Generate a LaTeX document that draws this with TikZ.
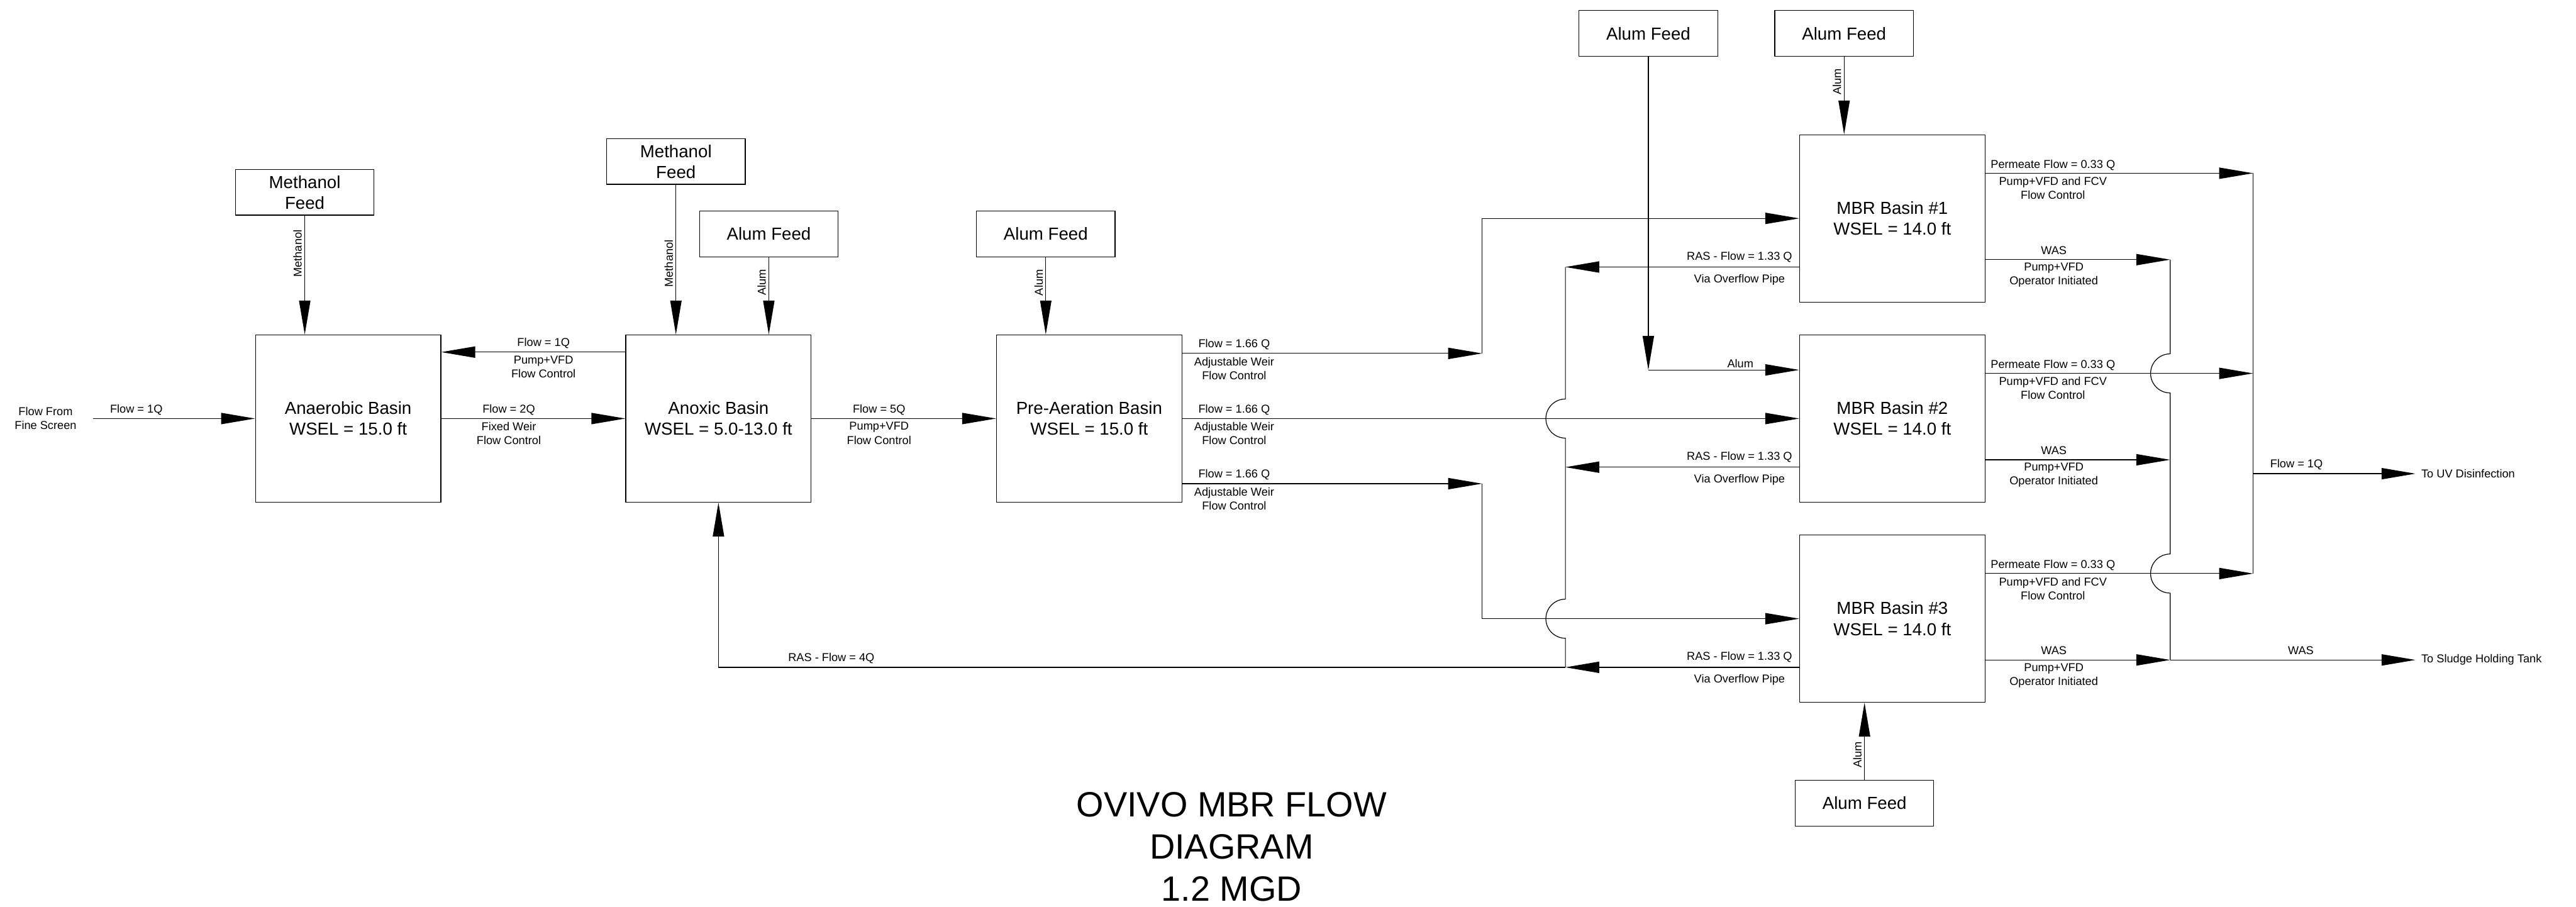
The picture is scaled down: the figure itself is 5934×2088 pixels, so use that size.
\documentclass[tikz,border=0pt]{standalone}
\usepackage{fontspec}
\setmainfont{Liberation Sans}
\usetikzlibrary{arrows.meta,calc}

\newcommand{\basinfont}{\fontsize{11.4}{13.7}\selectfont}
\newcommand{\lblfont}{\fontsize{7.5}{9.1}\selectfont}
\newcommand{\ttlfont}{\fontsize{23}{27.6}\selectfont}

\tikzset{
  basin/.style={draw, line width=0.5pt, minimum width=4.27cm, minimum height=3.85cm,
    inner sep=0pt, align=center, font=\basinfont},
  feed/.style={draw, line width=0.5pt, minimum width=3.19cm, minimum height=1.05cm,
    inner sep=0pt, align=center, font=\basinfont},
  flow/.style={line width=0.5pt, -{Triangle[length=7.8mm,width=2.6mm]}},
  pipe/.style={line width=0.5pt},
  toplbl/.style={anchor=base, inner sep=0pt, font=\lblfont},
  botlbl/.style={anchor=north, inner sep=0pt, align=center, font=\lblfont},
  chemlbl/.style={rotate=90, anchor=base, inner sep=0pt, font=\lblfont},
  endlbl/.style={anchor=west, inner sep=0.13cm, font=\lblfont},
}

\begin{document}
\begin{tikzpicture}[x=0.01cm, y=-0.01cm]
  \useasboundingbox (0,0) rectangle (5934,2088);

  % Basins
  \node[basin] (anaer) at (802,964) {Anaerobic Basin\\WSEL = 15.0 ft};
  \node[basin] (anox) at (1655,964) {Anoxic Basin\\WSEL = 5.0-13.0 ft};
  \node[basin] (preair) at (2509,964) {Pre-Aeration Basin\\WSEL = 15.0 ft};
  \node[basin] (mbr1) at (4359,503) {MBR Basin \#1\\WSEL = 14.0 ft};
  \node[basin] (mbr2) at (4359,964) {MBR Basin \#2\\WSEL = 14.0 ft};
  \node[basin] (mbr3) at (4359,1425) {MBR Basin \#3\\WSEL = 14.0 ft};

  % Chemical feeds
  \node[feed] (meth1) at (702,443) {Methanol\\Feed};
  \node[feed] (meth2) at (1557,372) {Methanol\\Feed};
  \node[feed] (alum1) at (1771,539) {Alum Feed};
  \node[feed] (alum2) at (2409,539) {Alum Feed};
  \node[feed] (alum3) at (3797,77) {Alum Feed};
  \node[feed] (alum4) at (4248,77) {Alum Feed};
  \node[feed] (alum5) at (4295,1850) {Alum Feed};

  \draw[flow] (meth1.south) -- (meth1.south |- anaer.north);
  \node[chemlbl] (methl1) at (695,584) {Methanol};
  \draw[flow] (meth2.south) -- (meth2.south |- anox.north);
  \node[chemlbl] (methl2) at (1550,607) {Methanol};
  \draw[flow] (alum1.south) -- (alum1.south |- anox.north);
  \node[chemlbl] (aluml1) at (1764,650) {Alum};
  \draw[flow] (alum2.south) -- (alum2.south |- preair.north);
  \node[chemlbl] (aluml2) at (2402,651) {Alum};
  \draw[flow] (alum4.south) -- (alum4.south |- mbr1.north);
  \node[chemlbl] (aluml4) at (4241,188) {Alum};
  \draw[flow] (alum5.north) -- (alum5.north |- mbr3.south);
  \node[chemlbl] (aluml5) at (4288,1738) {Alum};

  \coordinate (alumturn) at (3797,852);
  \draw[flow] (alum3.south) -- (alumturn);
  \draw[flow] (alumturn) -- (mbr2.west |- alumturn);
  \node[toplbl] (aluml3) at (4009,847) {Alum};

  % Influent and anoxic loop
  \coordinate (src) at (215,964);
  \node[align=center, inner sep=0pt, font=\lblfont] (srctxt) at (105,964) {Flow From\\Fine Screen};
  \draw[flow] (src) -- (anaer.west);
  \node[toplbl] (q0) at (314,951) {Flow = 1Q};

  \draw[flow] (anaer.east) -- (anox.west);
  \node[toplbl] (q2) at (1172,951) {Flow = 2Q};
  \node[botlbl] (q2c) at (1172,972) {Fixed Weir\\Flow Control};

  \draw[flow] (anox.west |- 0,811) -- (anaer.east |- 0,811);
  \node[toplbl] (q1) at (1252,798) {Flow = 1Q};
  \node[botlbl] (q1c) at (1252,819) {Pump+VFD\\Flow Control};

  \draw[flow] (anox.east) -- (preair.west);
  \node[toplbl] (q5) at (2025,951) {Flow = 5Q};
  \node[botlbl] (q5c) at (2025,972) {Pump+VFD\\Flow Control};

  % Pre-aeration split to MBRs
  \coordinate (split1) at (3414,814);
  \coordinate (split3) at (3414,1114);
  \draw[flow] (preair.east |- split1) -- (split1);
  \draw[flow] (split1) |- (mbr1.west);
  \draw[flow] (preair.east) -- (mbr2.west);
  \draw[flow] (preair.east |- split3) -- (split3);
  \draw[flow] (split3) |- (mbr3.west);
  \foreach \y/\n in {814/a, 964/b, 1114/c} {
    \node[toplbl] (pf\n) at (2843,\y-13) {Flow = 1.66 Q};
    \node[botlbl] (pc\n) at (2843,\y+8) {Adjustable Weir\\Flow Control};
  }

  % RAS return
  \coordinate (ras1) at (3606,615);
  \coordinate (ras2) at (3606,1076);
  \coordinate (ras3) at (3606,1537);
  \draw[flow] (mbr1.west |- ras1) -- (ras1);
  \draw[flow] (mbr2.west |- ras2) -- (ras2);
  \draw[flow] (mbr3.west |- ras3) -- (ras3);
  \draw[pipe] (ras1) -- (3606,919) arc[start angle=90, end angle=270, radius=0.45cm]
    -- (3606,1380) arc[start angle=90, end angle=270, radius=0.45cm] -- (ras3);
  \draw[flow] (ras3) -| (anox.south);
  \node[toplbl] (ras4) at (1915,1524) {RAS - Flow = 4Q};
  \foreach \y/\n in {615/a, 1076/b, 1537/c} {
    \node[toplbl] (rf\n) at (4007,\y-16) {RAS - Flow = 1.33 Q};
    \node[botlbl] (rc\n) at (4007,\y+16) {Via Overflow Pipe};
  }

  % Permeate
  \coordinate (perm1) at (5190,399);
  \coordinate (perm2) at (5190,860);
  \coordinate (perm3) at (5190,1321);
  \coordinate (uvj) at (5190,1091);
  \draw[flow] (mbr1.east |- perm1) -- (perm1);
  \draw[flow] (mbr2.east |- perm2) -- (perm2);
  \draw[flow] (mbr3.east |- perm3) -- (perm3);
  \draw[pipe] (perm1) -- (perm3);
  \node[endlbl] (uv) at (5564,1091) {To UV Disinfection};
  \draw[flow] (uvj) -- (uv.west);
  \node[toplbl] (qout) at (5290,1077) {Flow = 1Q};
  \foreach \y/\n in {399/a, 860/b, 1321/c} {
    \node[toplbl] (mf\n) at (4729,\y-12) {Permeate Flow = 0.33 Q};
    \node[botlbl] (mc\n) at (4729,\y+8) {Pump+VFD and FCV\\Flow Control};
  }

  % WAS
  \coordinate (was1) at (4999,598);
  \coordinate (was2) at (4999,1059);
  \coordinate (was3) at (4999,1520);
  \draw[flow] (mbr1.east |- was1) -- (was1);
  \draw[flow] (mbr2.east |- was2) -- (was2);
  \draw[flow] (mbr3.east |- was3) -- (was3);
  \draw[pipe] (was1) -- (4999,815) arc[start angle=90, end angle=270, radius=0.45cm]
    -- (4999,1276) arc[start angle=90, end angle=270, radius=0.45cm] -- (was3);
  \node[endlbl] (sludge) at (5564,1520) {To Sludge Holding Tank};
  \draw[flow] (was3) -- (sludge.west);
  \node[toplbl] (wasout) at (5300,1508) {WAS};
  \foreach \y/\n in {598/a, 1059/b, 1520/c} {
    \node[toplbl] (wf\n) at (4731,\y-12) {WAS};
    \node[botlbl] (wc\n) at (4731,\y+7) {Pump+VFD\\Operator Initiated};
  }

  % Title
  \node[align=center, inner sep=0pt, font=\ttlfont] (title) at (2837,1950)
    {OVIVO MBR FLOW\\DIAGRAM\\1.2 MGD};
\end{tikzpicture}
\end{document}
